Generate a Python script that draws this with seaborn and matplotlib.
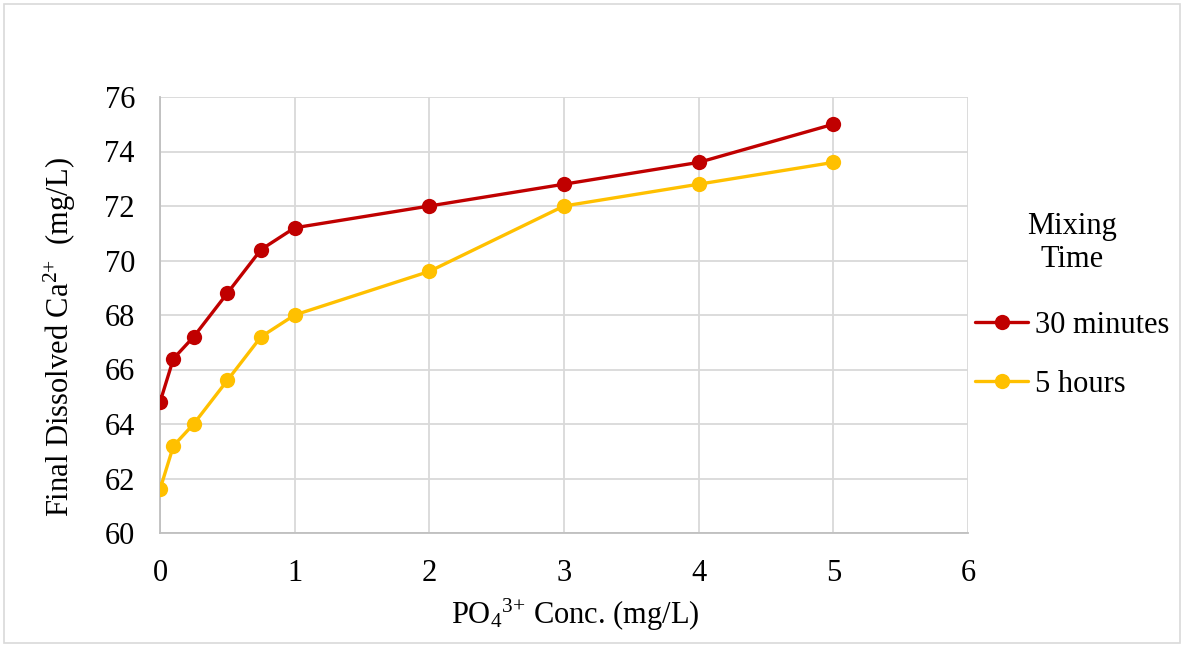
import numpy as np
import pandas as pd
import matplotlib
matplotlib.use("Agg")
import matplotlib.pyplot as plt
import seaborn as sns
from matplotlib.patches import Rectangle

# Phosphate dose (mg/L) and final dissolved calcium (mg/L)
po4_conc = [0, 0.1, 0.25, 0.5, 0.75, 1, 2, 3, 4, 5]
ca_30min = [64.8, 66.4, 67.2, 68.8, 70.4, 71.2, 72.0, 72.8, 73.6, 75.0]
ca_5hr = [61.6, 63.2, 64.0, 65.6, 67.2, 68.0, 69.6, 72.0, 72.8, 73.6]
series_names = ["30 minutes", "5 hours"]
x_ticks = [0, 1, 2, 3, 4, 5, 6]
y_ticks = [60, 62, 64, 66, 68, 70, 72, 74, 76]

df = pd.DataFrame({
    "PO4": po4_conc * 2,
    "Ca": ca_30min + ca_5hr,
    "Mixing Time": [series_names[0]] * len(po4_conc) + [series_names[1]] * len(po4_conc),
})

sns.set_theme(style="white")
plt.rcParams["font.family"] = ["Liberation Serif", "DejaVu Serif"]
plt.rcParams["mathtext.fontset"] = "custom"
plt.rcParams["mathtext.rm"] = "Liberation Serif"
plt.rcParams["mathtext.it"] = "Liberation Serif:italic"
plt.rcParams["mathtext.bf"] = "Liberation Serif:bold"
plt.rcParams["mathtext.default"] = "rm"
plt.rcParams["text.color"] = "black"
plt.rcParams["axes.labelcolor"] = "black"
plt.rcParams["xtick.color"] = "black"
plt.rcParams["ytick.color"] = "black"

FS = 22

fig = plt.figure(figsize=(11.84, 6.47), dpi=100)
ax = fig.add_axes([160 / 1184, 1 - 533 / 647, (968 - 160) / 1184, (533 - 97) / 647])

# Outer chart border
fig.patches.append(Rectangle((4 / 1184, 4 / 647), 1176 / 1184, 639 / 647,
                             transform=fig.transFigure, fill=False,
                             edgecolor="#d9d9d9", linewidth=1.2, zorder=0))

palette = {series_names[0]: "#C00000", series_names[1]: "#FFC000"}
sns.lineplot(data=df, x="PO4", y="Ca", hue="Mixing Time", palette=palette,
             marker="o", markersize=11, markeredgewidth=0, linewidth=2.4,
             ax=ax, zorder=3)

ax.set_xlim(0, 6)
ax.set_ylim(60, 76)
ax.set_xticks(x_ticks)
ax.set_yticks(y_ticks)
ax.grid(True, color="#d9d9d9", linewidth=1.3)
ax.set_axisbelow(True)
for side in ["top", "right"]:
    ax.spines[side].set_visible(False)
for side in ["left", "bottom"]:
    ax.spines[side].set_color("#bfbfbf")
    ax.spines[side].set_linewidth(1.3)
ax.tick_params(axis="y", length=0, labelsize=FS, colors="black", pad=18)
ax.tick_params(axis="x", length=0, labelsize=FS, colors="black", pad=19)

ax.set_xlabel("PO$_4$$^{3{+}}$ Conc. (mg/L)", fontsize=FS)
ax.xaxis.set_label_coords(0.514, -0.147)
ax.set_ylabel("Final Dissolved Ca$^{2{+}}$  (mg/L)", fontsize=FS)
ax.yaxis.set_label_coords(-0.101, 0.45)

leg = ax.legend(title="Mixing\nTime", loc="upper left",
                bbox_to_anchor=(975 / 1184, 1 - 212 / 647),
                bbox_transform=fig.transFigure,
                frameon=False, fontsize=FS, title_fontsize=FS, handlelength=1.75,
                labelspacing=1.0, handletextpad=0.2, borderaxespad=0, borderpad=0)
leg.get_title().set_multialignment("center")
leg._legend_box.sep = 26

fig.savefig("out.png", dpi=100, facecolor="white")
